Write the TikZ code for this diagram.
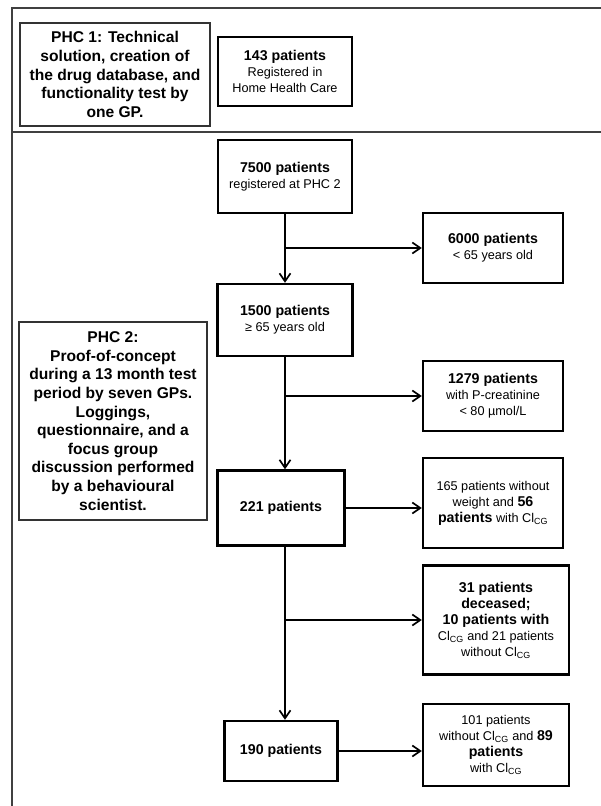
\documentclass[tikz,border=0pt]{standalone}
\usepackage{fontspec}
\setmainfont{Liberation Sans}
\usetikzlibrary{arrows.meta,positioning}
\newcommand{\hd}[1]{{\fontsize{14.2}{16}\selectfont\bfseries #1}}
\newcommand{\clcg}{Cl\textsubscript{CG}}
\tikzset{
  phc/.style={draw=black!80,line width=1.1pt,align=center,inner sep=2pt,
    font=\fontsize{15.6}{18.6}\selectfont\bfseries},
  pbox/.style={draw=black,line width=2.4pt,align=center,inner sep=2pt,
    font=\fontsize{12.7}{16}\selectfont},
  flow/.style={-{Straight Barb[length=8pt,width=11pt]},line width=1.7pt},
  frame/.style={draw=black!75,line width=1.4pt},
}

\begin{document}
\begin{tikzpicture}[x=1pt,y=-1pt]
  \useasboundingbox (0,0) rectangle (601,806);
  \draw[frame] (12,806) -- (12,8) -- (601,8);
  \draw[frame] (12,132) -- (601,132);
  % PHC 1
  \node[phc,minimum width=190pt,minimum height=103pt] (phcone) at (115,74.5)
    {PHC 1: Technical\\ solution, creation of\\ the drug database, and\\ functionality test by\\ one GP.};
  \node[pbox,minimum width=134pt,minimum height=69pt] (n143) at (285,71.5)
    {\hd{143 patients}\\ Registered in\\ Home Health Care};
  % PHC 2
  \node[phc,minimum width=188pt,minimum height=198pt] (phctwo) at (113,421)
    {PHC 2:\\ Proof-of-concept\\ during a 13 month test\\ period by seven GPs.\\ Loggings,\\ questionnaire, and a\\ focus group\\ discussion performed\\ by a behavioural\\ scientist.};
  \node[pbox,minimum width=134pt,minimum height=73pt] (n7500) at (285,176.5)
    {\hd{7500 patients}\\ registered at PHC 2};
  \node[pbox,minimum width=140pt,minimum height=70pt] (n6000) at (493,248)
    {\hd{6000 patients}\\ < 65 years old};
  \node[pbox,minimum width=135pt,minimum height=72pt] (n1500) at (285,320)
    {\hd{1500 patients}\\ ≥ 65 years old};
  \node[pbox,minimum width=140pt,minimum height=70pt] (n1279) at (493,396)
    {\hd{1279 patients}\\ with P-creatinine\\ < 80 µmol/L};
  \node[pbox,minimum width=127pt,minimum height=75pt] (n221) at (281,508)
    {\hd{221 patients}};
  \node[pbox,minimum width=140pt,minimum height=90pt] (n165) at (493,503)
    {165 patients without\\ weight and \hd{56}\\ \hd{patients} with \clcg};
  \node[pbox,minimum width=146pt,minimum height=109pt] (n31) at (496,620)
    {\hd{31 patients}\\ \hd{deceased;}\\ \hd{10 patients with}\\ \clcg{} and 21 patients\\ without \clcg};
  \node[pbox,minimum width=113pt,minimum height=60pt] (n190) at (281,751)
    {\hd{190 patients}};
  \node[pbox,minimum width=146pt,minimum height=82pt] (n101) at (496,745)
    {101 patients\\ without \clcg{} and \hd{89}\\ \hd{patients}\\ with \clcg};
  % flow
  \draw[flow] (n7500.south) -- (n7500.south |- n1500.north);
  \draw[flow] (n7500.south |- n6000.west) -- (n6000.west);
  \draw[flow] (n1500.south) -- (n1500.south |- n221.north);
  \draw[flow] (n1500.south |- n1279.west) -- (n1279.west);
  \draw[flow] (n221.east) -- (n221.east -| n165.west);
  \draw[flow] (n1500.south |- n221.south) -- (n1500.south |- n190.north);
  \draw[flow] (n1500.south |- n31.west) -- (n31.west);
  \draw[flow] (n190.east) -- (n190.east -| n101.west);
\end{tikzpicture}
\end{document}
